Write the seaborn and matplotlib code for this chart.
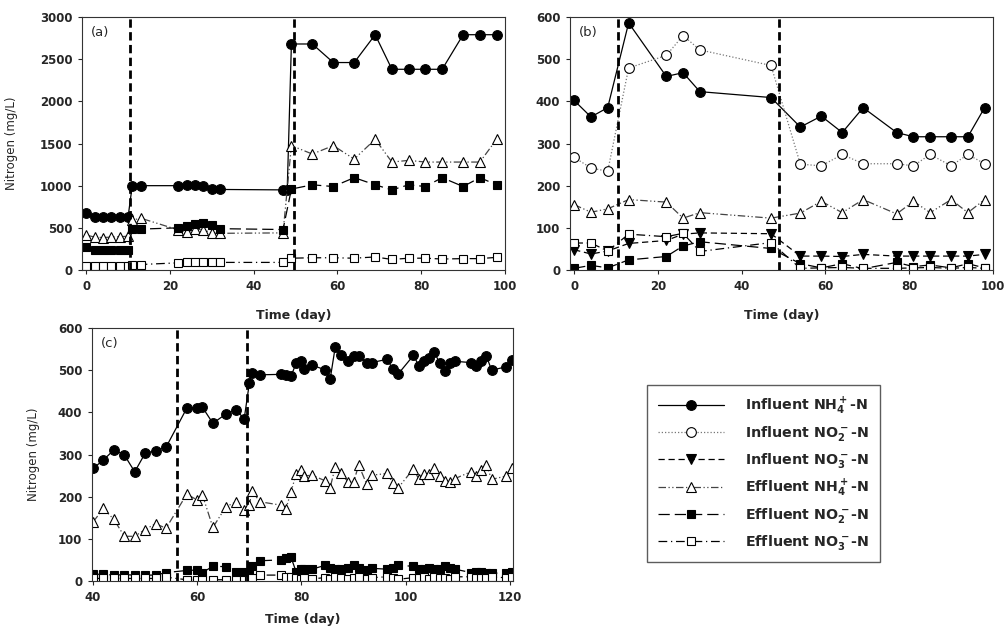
import matplotlib
matplotlib.use("Agg")
import matplotlib.pyplot as plt
import seaborn as sns
import pandas as pd
import numpy as np

# ---------------- data ----------------
# Panel (a)
a_days_inf = [0, 2, 4, 6, 8, 10, 11, 13, 22, 24, 26, 28, 30, 32, 47, 48, 49, 54, 59, 64, 69, 73, 77, 81, 85, 90, 94, 98]
a_inf_nh4 = [670, 630, 630, 630, 630, 630, 1000, 1000, 1000, 1010, 1010, 1000, 955, 955, 950, 950, 2680,
             2680, 2460, 2460, 2790, 2380, 2380, 2380, 2380, 2790, 2790, 2790]
a_days = [0, 2, 4, 6, 8, 10, 11, 13, 22, 24, 26, 28, 30, 32, 47, 49, 54, 59, 64, 69, 73, 77, 81, 85, 90, 94, 98]
a_eff_nh4 = [415, 390, 385, 390, 395, 400, 590, 615, 475, 450, 485, 480, 435, 435, 440, 1475,
             1375, 1475, 1315, 1550, 1280, 1300, 1280, 1280, 1280, 1280, 1550]
a_eff_no2 = [275, 240, 240, 240, 240, 240, 485, 485, 500, 525, 545, 560, 530, 490, 480, 960,
             1010, 990, 1095, 1010, 950, 1010, 990, 1095, 990, 1095, 1010]
a_eff_no3 = [50, 45, 45, 45, 50, 50, 60, 65, 85, 90, 100, 95, 90, 90, 90, 140,
             145, 145, 140, 155, 125, 140, 140, 130, 135, 135, 150]
a_phase = [10.5, 49.5]

# Panel (b)
b_days = [0, 4, 8, 13, 22, 26, 30, 47, 54, 59, 64, 69, 77, 81, 85, 90, 94, 98]
b_inf_nh4 = [402, 363, 385, 586, 459, 468, 423, 409, 339, 365, 326, 385, 326, 316, 316, 316, 316, 385]
b_inf_no2 = [267, 242, 234, 479, 509, 556, 522, 485, 251, 247, 274, 252, 252, 247, 274, 247, 274, 252]
b_inf_no3 = [48, 38, 45, 63, 70, 85, 88, 86, 33, 33, 32, 37, 33, 33, 33, 33, 33, 37]
b_eff_nh4 = [155, 137, 145, 167, 161, 123, 136, 123, 135, 163, 136, 167, 133, 163, 136, 167, 136, 167]
b_eff_no2 = [4, 11, 5, 24, 32, 57, 67, 51, 15, 5, 15, 3, 18, 8, 12, 5, 15, 5]
b_eff_no3 = [64, 64, 45, 85, 79, 87, 44, 65, 4, 5, 6, 4, 4, 5, 6, 4, 6, 4]
b_phase = [10.5, 49.0]

# Panel (c)
c_days = [40, 42, 44, 46, 48, 50, 52, 54, 58, 60, 61, 63, 65.5, 67.5, 69, 70, 70.5, 72,
          76, 77, 78, 79, 80, 80.5, 82, 84.5, 85.5, 86.5, 87.5, 89, 90, 91, 92.5, 93.5,
          96.5, 97.5, 98.5, 101.5, 102.5, 103.5, 104.5, 105.5, 106.5, 107.5, 108.5, 109.5,
          112.5, 113.5, 114.5, 115.5, 116.5, 119.3, 120.5]
c_inf_nh4 = [267, 287, 311, 299, 259, 303, 309, 317, 410, 411, 412, 374, 396, 406, 384, 469, 494, 489,
             490, 489, 486, 517, 521, 502, 512, 501, 478, 556, 536, 522, 533, 533, 518, 518,
             526, 502, 490, 535, 511, 521, 530, 542, 518, 499, 518, 521,
             518, 510, 521, 533, 500, 508, 523]
c_eff_nh4 = [140, 172, 146, 106, 106, 122, 136, 125, 206, 192, 204, 127, 176, 188, 168, 180, 214, 188,
             180, 170, 212, 254, 263, 249, 251, 238, 221, 271, 255, 235, 235, 275, 230, 251,
             255, 233, 220, 266, 242, 253, 253, 267, 249, 238, 235, 243,
             259, 250, 263, 275, 241, 249, 267]
c_eff_no2 = [16, 16, 14, 15, 14, 14, 14, 20, 25, 26, 20, 35, 34, 22, 22, 18, 35, 48,
             50, 54, 56, 21, 28, 28, 28, 37, 32, 28, 28, 32, 38, 30, 26, 30,
             28, 32, 37, 35, 28, 28, 30, 28, 28, 35, 32, 28,
             20, 22, 22, 20, 18, 20, 22]
c_eff_no3 = [6, 6, 6, 6, 6, 6, 6, 9, 3, 3, 3, 3, 3, 3, 3, 3, 8, 14,
             14, 10, 10, 6, 4, 6, 5, 8, 4, 10, 6, 4, 6, 9, 4, 8,
             10, 6, 4, 8, 6, 10, 4, 9, 6, 8, 5, 10,
             10, 6, 8, 6, 9, 8, 10]
c_phase = [56.2, 69.6]

series_labels = ["Influent NH$_4^+$-N", "Influent NO$_2^-$-N", "Influent NO$_3^-$-N",
                 "Effluent NH$_4^+$-N", "Effluent NO$_2^-$-N", "Effluent NO$_3^-$-N"]

# ---------------- style ----------------
sns.set_style("ticks")
plt.rcParams["font.family"] = ["DejaVu Sans"]
plt.rcParams["font.weight"] = "bold"
plt.rcParams["mathtext.fontset"] = "dejavusans"
plt.rcParams["mathtext.default"] = "bf"

styles = {
    "Influent NH$_4^+$-N": dict(marker="o", ms=7, mfc="black", ls="-", color="black", lw=0.9),
    "Influent NO$_2^-$-N": dict(marker="o", ms=7, mfc="white", ls=(0, (1, 1.6)), color="#777777", lw=0.9),
    "Influent NO$_3^-$-N": dict(marker="v", ms=7.5, mfc="black", ls=(0, (5, 3)), color="black", lw=0.9),
    "Effluent NH$_4^+$-N": dict(marker="^", ms=7.5, mfc="white", ls=(0, (6, 2, 1, 2, 1, 2)), color="#444444", lw=0.9),
    "Effluent NO$_2^-$-N": dict(marker="s", ms=6.3, mfc="black", ls=(0, (9, 4)), color="black", lw=0.9),
    "Effluent NO$_3^-$-N": dict(marker="s", ms=6.3, mfc="white", ls=(0, (7, 3, 1, 3)), color="black", lw=0.9),
}


def draw(ax, x, y, label):
    st = styles[label]
    df = pd.DataFrame({"day": x, "value": y})
    sns.lineplot(data=df, x="day", y="value", ax=ax, estimator=None, sort=False,
                 color=st["color"], linestyle=st["ls"], linewidth=st["lw"],
                 marker=st["marker"], markersize=st["ms"], markerfacecolor=st["mfc"],
                 markeredgecolor="black", markeredgewidth=0.8, label=label, legend=False)


def style_axes(ax, xlim, xticks, ylim, yticks, tag, phases, ylab_x=None, xlabpad=12):
    for p in phases:
        ax.axvline(p, color="black", lw=2.0, ls=(0, (3, 1.6)), zorder=5)
    ax.set_xlim(*xlim)
    ax.set_ylim(*ylim)
    ax.set_xticks(xticks)
    ax.set_yticks(yticks)
    ax.tick_params(direction="out", length=3, width=0.8, labelsize=8.5, pad=4)
    for s in ax.spines.values():
        s.set_visible(True)
        s.set_linewidth(0.8)
        s.set_color("#333333")
    ax.set_xlabel("Time (day)", fontsize=9, fontweight="bold", labelpad=xlabpad)
    if ylab_x is not None:
        ax.set_ylabel("Nitrogen (mg/L)", fontsize=8.5, fontweight="normal")
        ax.yaxis.set_label_coords(ylab_x, 0.5)
    else:
        ax.set_ylabel("")
    ax.text(0.022, 0.965, tag, transform=ax.transAxes, fontsize=9.5, fontweight="normal",
            va="top", ha="left")


fig = plt.figure(figsize=(10.08, 6.31), dpi=100)
ax_a = fig.add_axes([82 / 1008, 1 - 270 / 631, 423 / 1008, 253 / 631])
ax_b = fig.add_axes([570 / 1008, 1 - 270 / 631, 423 / 1008, 253 / 631])
ax_c = fig.add_axes([92 / 1008, 1 - 581 / 631, 421 / 1008, 253 / 631])

# (a)
draw(ax_a, a_days_inf, a_inf_nh4, series_labels[0])
draw(ax_a, a_days, a_eff_nh4, series_labels[3])
draw(ax_a, a_days, a_eff_no2, series_labels[4])
draw(ax_a, a_days, a_eff_no3, series_labels[5])
style_axes(ax_a, (-1, 100), range(0, 101, 20), (0, 3000), range(0, 3001, 500), "(a)", a_phase,
           ylab_x=(18 - 82) / 423)

# (b)
draw(ax_b, b_days, b_inf_nh4, series_labels[0])
draw(ax_b, b_days, b_inf_no2, series_labels[1])
draw(ax_b, b_days, b_inf_no3, series_labels[2])
draw(ax_b, b_days, b_eff_nh4, series_labels[3])
draw(ax_b, b_days, b_eff_no2, series_labels[4])
draw(ax_b, b_days, b_eff_no3, series_labels[5])
style_axes(ax_b, (-1, 100), range(0, 101, 20), (0, 600), range(0, 601, 100), "(b)", b_phase)

# (c)
draw(ax_c, c_days, c_inf_nh4, series_labels[0])
draw(ax_c, c_days, c_eff_nh4, series_labels[3])
draw(ax_c, c_days, c_eff_no2, series_labels[4])
draw(ax_c, c_days, c_eff_no3, series_labels[5])
style_axes(ax_c, (39.8, 120.6), range(40, 121, 20), (0, 600), range(0, 601, 100), "(c)", c_phase,
           ylab_x=(40 - 92) / 421, xlabpad=7)

handles, labels = ax_b.get_legend_handles_labels()
leg = fig.legend(handles, labels, loc="upper left", bbox_to_anchor=(647 / 1008, 1 - 385 / 631),
                 frameon=True, fancybox=False, edgecolor="#333333", fontsize=10.3,
                 handlelength=4.6, handletextpad=1.5, labelspacing=0.52, borderpad=0.75,
                 borderaxespad=0)
leg.get_frame().set_linewidth(1.0)
for t in leg.get_texts():
    t.set_fontweight("bold")

fig.savefig("out.png", dpi=100)
